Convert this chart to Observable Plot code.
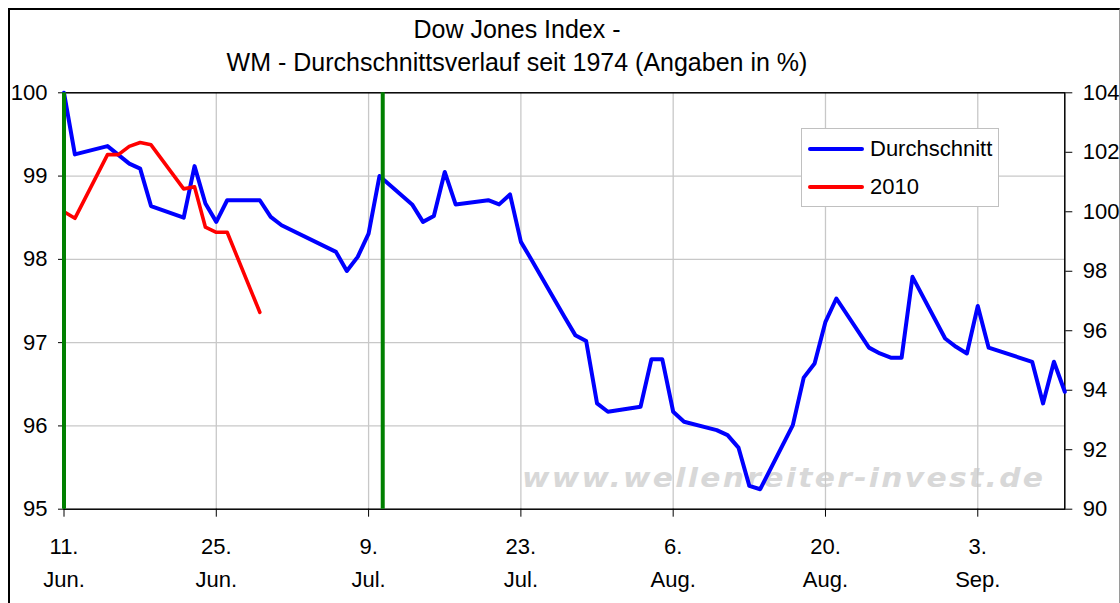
<!DOCTYPE html>
<html>
<head>
<meta charset="utf-8">
<script src="https://cdn.jsdelivr.net/npm/d3@7"></script>
<script src="https://cdn.jsdelivr.net/npm/@observablehq/plot@0.6"></script>
<style>
  body { margin: 0; background: #fff; font-family: "Liberation Sans", Arial, sans-serif; }
  #wrap { position: relative; width: 1120px; height: 603px; overflow: hidden; background: #fff; }
  #frame { position: absolute; left: 8px; top: 8px; width: 1109px; height: 700px;
           border-left: 2px solid #000; border-top: 2px solid #000; border-right: 1px solid #9a9a9a; }
  #title { position: absolute; left: 0; top: 13px; width: 1034px; text-align: center;
           font-size: 25px; line-height: 33px; color: #000; }
  #wm { position: absolute; left: 522px; top: 463px; font-family: "DejaVu Sans", sans-serif;
        font-style: oblique; font-weight: bold; font-size: 26px; letter-spacing: 2px; color: #d8d8d8;
        white-space: nowrap; transform-origin: 0 0; transform: scaleX(1.145); }
  #chart { position: absolute; left: 0; top: 80px; }
  #legend { position: absolute; left: 801px; top: 128px; width: 196px; height: 77px;
            border: 1px solid #c0c0c0; background: #fff; font-size: 22px; }
  .row { position: absolute; left: 6px; height: 24px; display: flex; align-items: center; }
  .sw { width: 56px; height: 4px; border-radius: 2px; margin-right: 6px; }
</style>
</head>
<body>
<div id="wrap">
  <div id="frame"></div>
  <div id="wm">www.wellenreiter-invest.de</div>
  <div id="title">Dow Jones Index -<br>WM - Durchschnittsverlauf seit 1974 (Angaben in %)</div>
  <div id="chart"></div>
  <div id="legend"></div>
</div>
<script>
// Days after 11 June (x position), averaged Dow Jones path during World Cups since 1974 (left axis, %)
const avgDays = [0,1,4,6,7,8,11,12,13,14,15,18,19,20,25,26,27,28,29,32,33,34,35,36,39,40,41,42,43,46,47,48,49,50,53,54,55,56,57,60,61,62,63,64,67,68,69,70,71,74,75,76,77,78,81,82,83,84,85,89,90,91,92];
const avgValues = [100,99.26,99.36,99.15,99.09,98.64,98.50,99.12,98.67,98.45,98.71,98.71,98.51,98.41,98.09,97.86,98.03,98.31,99.00,98.66,98.45,98.52,99.05,98.66,98.71,98.66,98.78,98.21,97.99,97.31,97.09,97.02,96.27,96.17,96.23,96.80,96.80,96.17,96.05,95.95,95.89,95.74,95.28,95.24,96.01,96.58,96.75,97.25,97.53,96.94,96.87,96.82,96.82,97.79,97.05,96.95,96.87,97.44,96.94,96.77,96.27,96.77,96.41];

// 2010 path (right axis, %)
const days2010 = [0,1,4,5,6,7,8,11,12,13,14,15,18];
const values2010 = [100,99.78,101.92,101.92,102.20,102.33,102.25,100.77,100.84,99.48,99.31,99.31,96.62];

// World Cup start and final
const wmDays = [0, 29.3];

const seriesNames = ["Durchschnitt", "2010"];
const seriesColors = ["#0000ff", "#ff0000"];

const leftTicks = [95, 96, 97, 98, 99, 100];
const rightTicks = [90, 92, 94, 96, 98, 100, 102, 104];
const xTickDays = [0, 14, 28, 42, 56, 70, 84];
const xTickDayLabels = ["11.", "25.", "9.", "23.", "6.", "20.", "3."];
const xTickMonthLabels = ["Jun.", "Jun.", "Jul.", "Jul.", "Aug.", "Aug.", "Sep."];

const leftDomain = [95, 100];
const rightDomain = [90, 104];
const toLeft = r => leftDomain[0] + (r - rightDomain[0]) * (leftDomain[1] - leftDomain[0]) / (rightDomain[1] - rightDomain[0]);
const fromLeft = l => rightDomain[0] + (l - leftDomain[0]) * (rightDomain[1] - rightDomain[0]) / (leftDomain[1] - leftDomain[0]);

const avgRows = avgDays.map((d, i) => ({day: d, value: avgValues[i]}));
const rows2010 = days2010.map((d, i) => ({day: d, value: values2010[i]}));

const chart = Plot.plot({
  width: 1120,
  height: 523,
  marginTop: 12.3,
  marginBottom: 94.3,
  marginLeft: 63.5,
  marginRight: 55.7,
  style: {background: "transparent", fontFamily: "'Liberation Sans', Arial, sans-serif", fontSize: "22px", color: "#000", overflow: "visible"},
  x: {domain: [0, 92]},
  y: {domain: leftDomain},
  marks: [
    Plot.ruleY([96, 97, 98, 99], {stroke: "#c8c8c8", strokeWidth: 1.3}),
    Plot.ruleX(xTickDays.slice(1), {stroke: "#c8c8c8", strokeWidth: 1.3}),
    Plot.frame({stroke: "#000", strokeWidth: 1.5}),
    Plot.axisY(leftTicks, {anchor: "left", tickSize: 5.5, tickPadding: 11, label: null, fontSize: 22,
      tickFormat: v => String(v)}),
    Plot.axisY(rightTicks.map(toLeft), {anchor: "right", tickSize: 7, tickPadding: 11, label: null, fontSize: 22,
      tickFormat: v => String(Math.round(fromLeft(v)))}),
    Plot.axisX(xTickDays, {anchor: "bottom", tickSize: 8, tickPadding: 14, label: null, fontSize: 22, lineHeight: 1.48,
      tickFormat: d => { const i = xTickDays.indexOf(d); return xTickDayLabels[i] + "\n" + xTickMonthLabels[i]; }}),
    Plot.line(avgRows, {x: "day", y: "value", stroke: seriesColors[0], strokeWidth: 4}),
    Plot.line(rows2010, {x: "day", y: d => toLeft(d.value), stroke: seriesColors[1], strokeWidth: 3.6}),
    Plot.ruleX(wmDays, {stroke: "#008000", strokeWidth: 4})
  ]
});
document.getElementById("chart").appendChild(chart);

const legend = document.getElementById("legend");
seriesNames.forEach((name, i) => {
  const row = document.createElement("div");
  row.className = "row";
  row.style.top = (i === 0 ? 8 : 46) + "px";
  row.innerHTML = `<div class="sw" style="background:${seriesColors[i]}"></div><span>${name}</span>`;
  legend.appendChild(row);
});
</script>
</body>
</html>
